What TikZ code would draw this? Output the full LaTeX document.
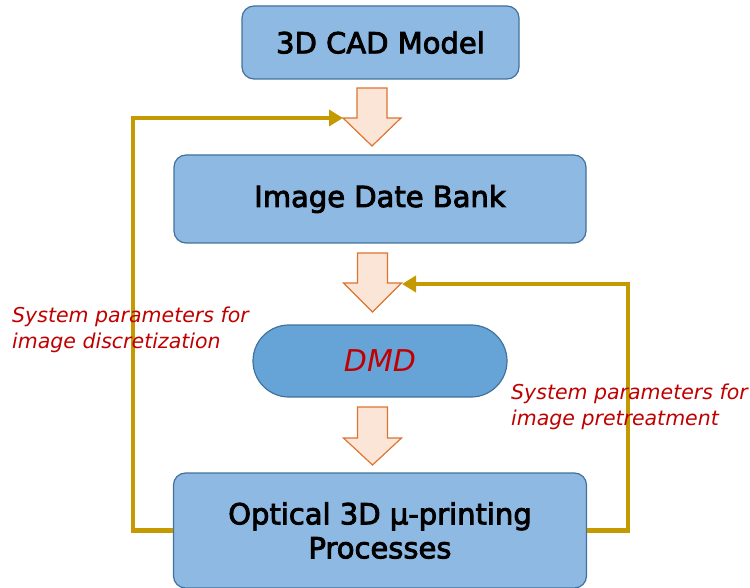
\documentclass[tikz,border=0pt]{standalone}
\usepackage{fontspec}
\setmainfont{DejaVu Sans}
\newfontfamily\boxfont{DejaVu Sans}[FakeBold=3]
\usetikzlibrary{arrows.meta}
\definecolor{boxfill}{HTML}{8DB9E2}
\definecolor{boxline}{HTML}{41719C}
\definecolor{dmdfill}{HTML}{66A4D8}
\definecolor{arrfill}{HTML}{FBE5D6}
\definecolor{arrline}{HTML}{DD7432}
\definecolor{gold}{HTML}{C59A00}
\definecolor{redtxt}{HTML}{C00000}
\tikzset{
  box/.style={draw=boxline, fill=boxfill, line width=1.2pt, rounded corners=12pt,
    inner sep=0pt, align=center, font=\boxfont\fontsize{29}{34}\selectfont},
  dmdbox/.style={draw=boxline, fill=dmdfill, line width=1.2pt, rounded corners=36pt,
    inner sep=0pt, text=redtxt, font=\fontsize{30}{30}\selectfont\itshape},
  blockarrow/.style={draw=arrline, fill=arrfill, line width=1.2pt, line join=miter},
  feedback/.style={draw=gold, line width=4.5pt, -{Triangle[length=14pt,width=16pt]}},
  lbl/.style={text=redtxt, align=left, inner sep=0pt, font=\fontsize{20.5}{25.5}\selectfont\itshape}
}
\newcommand{\myblockarrow}[4]{%
  \path[blockarrow] (#1-15,#2) -- (#1+15,#2) -- (#1+15,#3) -- (#1+29,#3) -- (#1,#4)
    -- (#1-29,#3) -- (#1-15,#3) -- cycle;}
\begin{document}
\begin{tikzpicture}[x=1pt,y=-1pt]
\useasboundingbox (0,0) rectangle (750,588);
\clip (0,0) rectangle (750,588);
\node[box, minimum width=277pt, minimum height=73pt] (top) at (380.5,42.5) {3D CAD Model};
\node[box, minimum width=412pt, minimum height=88pt] (img) at (380,199) {Image Date Bank};
\node[dmdbox, minimum width=254pt, minimum height=72pt] (dmd) at (380,361) {DMD};
\node[box, minimum width=413pt, minimum height=115pt] (bot) at (380,530.5) {Optical 3D µ-printing\\Processes};
\myblockarrow{372}{88}{118}{146}
\myblockarrow{372.5}{253}{283}{312}
\myblockarrow{372.5}{407}{438}{465}
\coordinate (a1) at (343,118);
\coordinate (a2) at (402,284);
\draw[feedback] (bot.west) -- (133,530.5) |- (a1);
\draw[feedback] (bot.east) -- (628,530.5) |- (a2);
\node[lbl, anchor=north west] (lleft) at (12,307) {System parameters for\\image discretization};
\node[lbl, anchor=north west] (lright) at (511,384) {System parameters for\\image pretreatment};
\end{tikzpicture}
\end{document}
